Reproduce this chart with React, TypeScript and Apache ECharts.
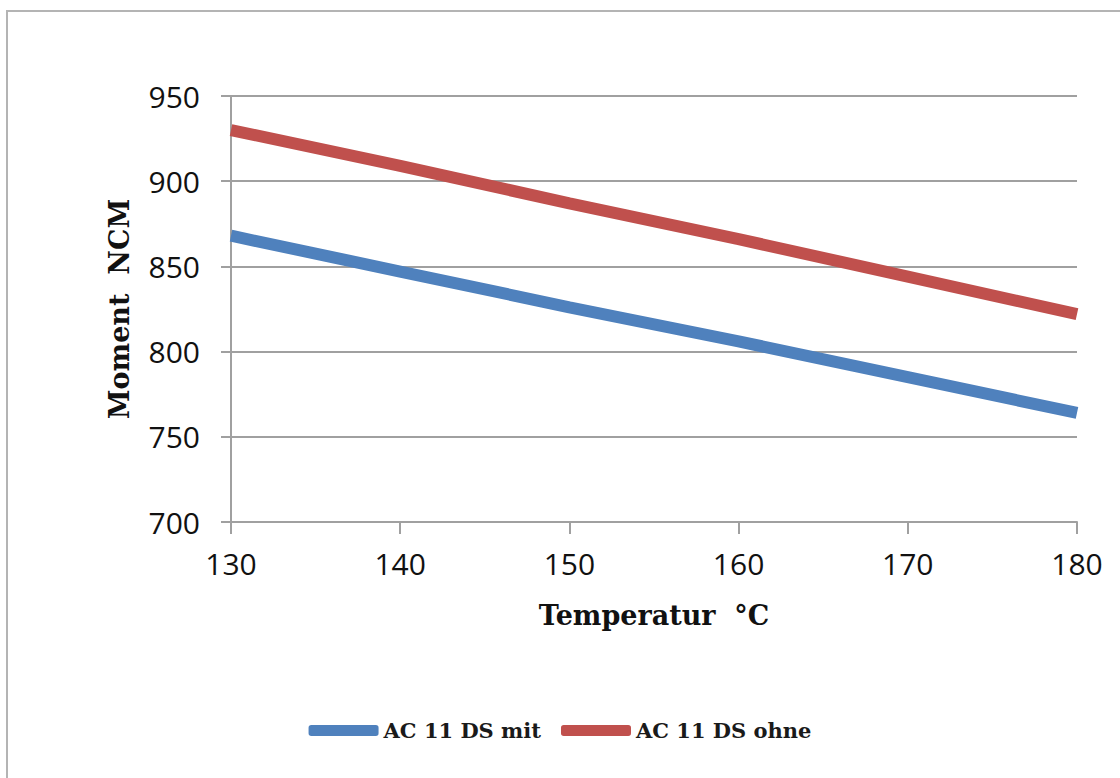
import React, { useEffect, useRef } from "react";
import * as echarts from "echarts";

const temperatures = [130, 140, 150, 160, 170, 180];
const mitValues = [868, 847, 826, 806, 785, 764];
const ohneValues = [930, 909, 887, 866, 844, 822];
const seriesNames = ["AC 11 DS mit", "AC 11 DS ohne"];
const seriesColors = ["#4F81BD", "#C0504D"];

export default function App() {
  const ref = useRef<HTMLDivElement>(null);
  useEffect(() => {
    if (!ref.current) return;
    const chart = echarts.init(ref.current, null, { renderer: "svg" });
    const gray = "#a0a0a0";
    chart.setOption({
      animation: false,
      backgroundColor: "#ffffff",
      graphic: [
        {
          type: "rect",
          shape: { x: 7, y: 11, width: 1200, height: 900 },
          style: { fill: "none", stroke: "#b4b4b4", lineWidth: 2 },
          silent: true,
          z: -10,
        },
      ],
      grid: { left: 231, right: 43, top: 96, bottom: 256 },
      legend: {
        bottom: 32,
        left: "center",
        icon: "roundRect",
        itemWidth: 70,
        itemHeight: 11,
        itemGap: 20,
        data: seriesNames,
        textStyle: {
          fontFamily: "DejaVu Serif",
          fontWeight: "bold",
          fontSize: 21,
          color: "#1a1a1a",
        },
      },
      xAxis: {
        type: "value",
        min: 130,
        max: 180,
        interval: 10,
        name: "Temperatur  °C",
        nameLocation: "middle",
        nameGap: 80,
        nameTextStyle: {
          fontFamily: "DejaVu Serif",
          fontWeight: "bold",
          fontSize: 27,
          color: "#111111",
        },
        axisLine: { show: true, lineStyle: { color: gray, width: 2 } },
        axisTick: { show: true, length: 12, lineStyle: { color: gray, width: 2 } },
        splitLine: { show: false },
        axisLabel: {
          margin: 26,
          fontFamily: "Open Sans",
          fontSize: 30,
          color: "#111111",
        },
      },
      yAxis: {
        type: "value",
        min: 700,
        max: 950,
        interval: 50,
        name: "Moment  NCM",
        nameLocation: "middle",
        nameGap: 98,
        nameTextStyle: {
          fontFamily: "DejaVu Serif",
          fontWeight: "bold",
          fontSize: 27,
          color: "#111111",
        },
        axisLine: { show: true, lineStyle: { color: gray, width: 2 } },
        axisTick: { show: true, length: 10, lineStyle: { color: gray, width: 2 } },
        splitLine: { show: true, lineStyle: { color: gray, width: 2 } },
        axisLabel: {
          margin: 31,
          fontFamily: "Open Sans",
          fontSize: 30,
          color: "#111111",
        },
      },
      series: [
        {
          name: seriesNames[0],
          type: "line",
          data: temperatures.map((t, i) => [t, mitValues[i]]),
          showSymbol: false,
          symbol: "none",
          lineStyle: { width: 12, color: seriesColors[0] },
          itemStyle: { color: seriesColors[0] },
        },
        {
          name: seriesNames[1],
          type: "line",
          data: temperatures.map((t, i) => [t, ohneValues[i]]),
          showSymbol: false,
          symbol: "none",
          lineStyle: { width: 12, color: seriesColors[1] },
          itemStyle: { color: seriesColors[1] },
        },
      ],
    });
    return () => chart.dispose();
  }, []);
  return (
    <div
      ref={ref}
      style={{ position: "fixed", left: 0, top: 0, width: 1120, height: 778 }}
    />
  );
}
